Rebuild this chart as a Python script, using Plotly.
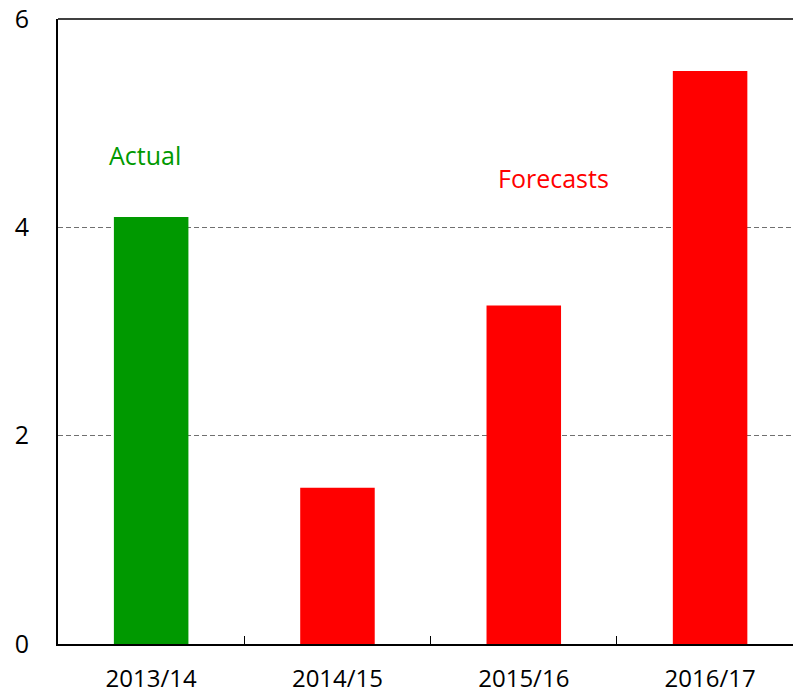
import plotly.graph_objects as go

categories = ["2013/14", "2014/15", "2015/16", "2016/17"]
values = [4.1, 1.5, 3.25, 5.5]
bar_colors = ["#009900", "#FF0000", "#FF0000", "#FF0000"]
y_ticks = [0, 2, 4, 6]

FONT = "Open Sans"

fig = go.Figure()
fig.add_trace(go.Bar(
    x=categories, y=values, marker=dict(color=bar_colors, line=dict(width=0)),
    width=0.40, hoverinfo="skip"
))

fig.update_layout(
    width=794, height=694,
    margin=dict(l=58, r=1, t=19, b=50),
    paper_bgcolor="white", plot_bgcolor="white",
    showlegend=False,
    font=dict(family=FONT, size=25, color="black"),
    xaxis=dict(
        type="category", showgrid=False, showline=True, linecolor="black", linewidth=2,
        ticks="inside", tickson="boundaries", ticklen=8, tickcolor="black", tickwidth=1,
        tickfont=dict(family=FONT, size=24), ticklabelstandoff=12, automargin=False,
        range=[-0.5, 3.445], fixedrange=True,
    ),
    yaxis=dict(
        range=[0, 6], tickvals=y_ticks, showgrid=True, gridcolor="#707070",
        griddash="5px,3px", gridwidth=1, showline=True, linecolor="black", linewidth=2,
        ticks="", zeroline=False, tickfont=dict(family=FONT, size=25),
        ticklabelstandoff=22, automargin=False, fixedrange=True,
    ),
)

# solid top border at the maximum
fig.add_shape(type="line", xref="paper", yref="paper", x0=0, x1=1, y0=1, y1=1,
              line=dict(color="black", width=1.5))

fig.add_annotation(x=0.118, y=4.69, xref="paper", yref="y", text="Actual",
                   xanchor="center", yanchor="middle",
                   showarrow=False, font=dict(family=FONT, size=25, color="#009900"))
fig.add_annotation(x=0.674, y=4.47, xref="paper", yref="y", text="Forecasts",
                   xanchor="center", yanchor="middle",
                   showarrow=False, font=dict(family=FONT, size=25, color="#FF0000"))

fig.write_html("out.html", config={"displayModeBar": False},
               post_script="document.body.style.margin='0';")
